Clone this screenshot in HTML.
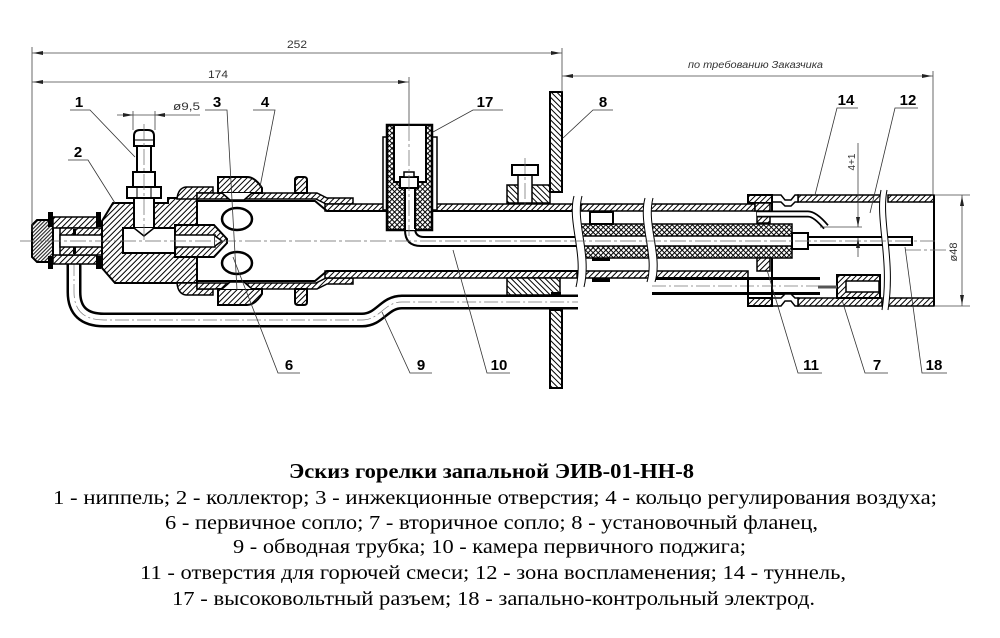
<!DOCTYPE html>
<html><head><meta charset="utf-8"><style>html,body{margin:0;padding:0;background:#fff}svg{display:block}</style></head>
<body>
<svg width="1000" height="638" viewBox="0 0 1000 638" xmlns="http://www.w3.org/2000/svg">
<defs>
<pattern id="h" width="4" height="4" patternUnits="userSpaceOnUse" patternTransform="rotate(45)"><rect width="4" height="4" fill="#fff"/><rect width="1" height="4" fill="#000"/></pattern>
<pattern id="hr" width="4" height="4" patternUnits="userSpaceOnUse" patternTransform="rotate(-45)"><rect width="4" height="4" fill="#fff"/><rect width="1" height="4" fill="#000"/></pattern>
<pattern id="hd" width="2.6" height="2.6" patternUnits="userSpaceOnUse" patternTransform="rotate(45)"><rect width="2.6" height="2.6" fill="#fff"/><rect width="1.1" height="2.6" fill="#222"/></pattern>
<pattern id="x" width="3.6" height="3.6" patternUnits="userSpaceOnUse" patternTransform="rotate(45)"><rect width="3.6" height="3.6" fill="#fff"/><rect width="1" height="3.6" fill="#000"/><rect width="3.6" height="1" fill="#000"/></pattern>
</defs>
<rect width="1000" height="638" fill="#fff"/>

<!-- bypass tube 9 -->
<path d="M74,256 V292 Q74,320 104,320 H362 C380,320 384,302 402,302 H578" fill="none" stroke="#000" stroke-width="15"/>
<path d="M74,256 V292 Q74,320 104,320 H362 C380,320 384,302 402,302 H578" fill="none" stroke="#fff" stroke-width="10"/>
<path d="M74,262 V292 Q74,320 104,320 H362 C380,320 384,302 402,302 H578" fill="none" stroke="#777" stroke-width="0.7" stroke-dasharray="14 3 2 3"/>

<!-- left cap nut and sleeve -->
<polygon points="37,220 53,220 53,262 37,262 32,257 32,225" fill="url(#hd)" stroke="#000" stroke-width="2"/>
<rect x="53" y="217" width="44" height="11" fill="url(#h)" stroke="#000" stroke-width="1.5"/>
<rect x="53" y="255" width="44" height="9" fill="url(#h)" stroke="#000" stroke-width="1.5"/>
<rect x="60" y="228" width="64" height="27" fill="url(#h)" stroke="#000" stroke-width="1.5"/>
<rect x="60" y="235" width="64" height="12" fill="#fff" stroke="#000" stroke-width="1.5"/>
<rect x="73" y="229" width="3" height="6" fill="#000"/>
<rect x="73" y="247" width="3" height="7" fill="#000"/>
<rect x="48" y="212" width="5" height="15" fill="#000"/>
<rect x="48" y="256" width="5" height="13" fill="#000"/>
<rect x="96" y="212" width="5" height="15" fill="#000"/>
<rect x="96" y="256" width="5" height="13" fill="#000"/>

<!-- collector body 2 -->
<path d="M102,221 L113,203 L168,203 L168,198 L197,198 L197,283 L115,283 L102,268 Z" fill="url(#h)" stroke="#000" stroke-width="2"/>
<rect x="123" y="228" width="52" height="25" fill="#fff" stroke="#000" stroke-width="2"/>
<!-- nozzle 6 -->
<path d="M175,225 L214,225 L227,239 L227,243 L214,257 L175,257 Z" fill="url(#h)" stroke="#000" stroke-width="2"/>
<rect x="175" y="235" width="40" height="12" fill="#fff" stroke="#000" stroke-width="1.5"/>
<path d="M215,236 L222,241 L215,246" fill="#fff" stroke="#000" stroke-width="1.5"/>

<!-- nipple 1 -->
<rect x="134" y="198" width="20" height="30" fill="#fff" stroke="#000" stroke-width="2"/>
<path d="M134,228 L144,236 L154,228" fill="#fff" stroke="#000" stroke-width="1.5"/>
<rect x="127" y="187" width="34" height="11" fill="#fff" stroke="#000" stroke-width="2"/>
<line x1="137" y1="187" x2="137" y2="198" stroke="#000" stroke-width="1"/>
<line x1="151" y1="187" x2="151" y2="198" stroke="#000" stroke-width="1"/>
<rect x="133" y="172" width="22" height="15" fill="#fff" stroke="#000" stroke-width="2"/>
<rect x="137" y="146" width="14" height="26" fill="#fff" stroke="#000" stroke-width="2"/>
<path d="M134,146 L134,136 Q134,130 140,130 L148,130 Q154,130 154,136 L154,146 Z" fill="#fff" stroke="#000" stroke-width="2"/>
<line x1="134" y1="140" x2="154" y2="140" stroke="#000" stroke-width="1"/>

<!-- housing top -->
<path d="M177,199 Q178,188 186,187 L213,187 L213,193 L197,193 L197,199 Z" fill="url(#h)" stroke="#000" stroke-width="1.5"/>
<polygon points="197,193 317,193 327,198 353,198 353,204 326,204 316,199 197,199" fill="url(#h)" stroke="#000" stroke-width="1.5"/>
<path d="M218,177 L247,177 Q255,177 262,188 L262,193 L218,193 Z" fill="url(#h)" stroke="#000" stroke-width="2"/>
<path d="M222,193 L230,200 L244,200 L252,193" fill="#fff" stroke="#000" stroke-width="1.5"/>
<path d="M295,193 V180 Q295,177 298,177 H304 Q307,177 307,180 V193 Z" fill="url(#h)" stroke="#000" stroke-width="2"/>
<!-- housing bottom -->
<path d="M177,283 Q178,294 186,295 L213,295 L213,289 L197,289 L197,283 Z" fill="url(#h)" stroke="#000" stroke-width="1.5"/>
<polygon points="197,289 317,289 327,284 353,284 353,278 326,278 316,283 197,283" fill="url(#h)" stroke="#000" stroke-width="1.5"/>
<path d="M218,305 L247,305 Q255,305 262,294 L262,289 L218,289 Z" fill="url(#h)" stroke="#000" stroke-width="2"/>
<path d="M222,289 L230,282 L244,282 L252,289" fill="#fff" stroke="#000" stroke-width="1.5"/>
<path d="M295,289 V302 Q295,305 298,305 H304 Q307,305 307,302 V289 Z" fill="url(#h)" stroke="#000" stroke-width="2"/>

<!-- main tube segment 1 -->
<rect x="325" y="204" width="252" height="7" fill="url(#h)" stroke="#000" stroke-width="1.5"/>
<rect x="325" y="271" width="252" height="7" fill="url(#h)" stroke="#000" stroke-width="1.5"/>
<path d="M197,201 L315,201 L327,211 H578" fill="none" stroke="#000" stroke-width="2"/>
<path d="M197,281 L315,281 L327,271 H578" fill="none" stroke="#000" stroke-width="2"/>
<ellipse cx="237" cy="219" rx="15" ry="11" fill="#fff" stroke="#000" stroke-width="2.5"/>
<ellipse cx="237" cy="263" rx="15" ry="11" fill="#fff" stroke="#000" stroke-width="2.5"/>

<!-- wire from connector -->
<path d="M405,186 V230 Q405,246 421,246 H578" fill="none" stroke="#000" stroke-width="2"/>
<path d="M415,186 V228 Q415,237 424,237 H578" fill="none" stroke="#000" stroke-width="2"/>

<!-- segments 2 & 3 -->
<rect x="581" y="204" width="174" height="7" fill="url(#h)" stroke="#000" stroke-width="1.5"/>
<rect x="581" y="271" width="167" height="7" fill="url(#h)" stroke="#000" stroke-width="1.5"/>
<rect x="581" y="224" width="211" height="12" fill="url(#x)" stroke="#000" stroke-width="1.5"/>
<rect x="581" y="246" width="211" height="12" fill="url(#x)" stroke="#000" stroke-width="1.5"/>
<rect x="590" y="212" width="23" height="12" fill="#fff" stroke="#000" stroke-width="2"/>
<rect x="592" y="258" width="18" height="3" fill="#000"/>
<rect x="592" y="278" width="18" height="4" fill="#000"/>
<path d="M652,286 H820" fill="none" stroke="#000" stroke-width="18"/>
<path d="M652,286 H820" fill="none" stroke="#fff" stroke-width="12"/>
<path d="M652,286 H820" fill="none" stroke="#777" stroke-width="0.7" stroke-dasharray="14 3 2 3"/>

<!-- connector 17 -->
<rect x="383" y="137" width="7" height="73" fill="#fff" stroke="#000" stroke-width="1.5"/>
<rect x="430" y="137" width="7" height="73" fill="#fff" stroke="#000" stroke-width="1.5"/>
<rect x="387" y="125" width="45" height="105" fill="url(#x)" stroke="#000" stroke-width="2.5"/>
<rect x="394" y="125" width="32" height="57" fill="#fff" stroke="#000" stroke-width="2"/>
<rect x="405" y="186" width="10" height="44" fill="#fff"/>
<line x1="405" y1="186" x2="405" y2="231" stroke="#000" stroke-width="2"/>
<line x1="415" y1="186" x2="415" y2="229" stroke="#000" stroke-width="2"/>
<rect x="400" y="177" width="18" height="11" fill="#fff" stroke="#000" stroke-width="2"/>
<rect x="404" y="172" width="10" height="5" fill="#fff" stroke="#000" stroke-width="1.5"/>

<!-- bolt, blocks, flange 8 -->
<rect x="507" y="185" width="43" height="18" fill="url(#hr)" stroke="#000" stroke-width="1.5"/>
<rect x="518" y="175" width="14" height="28" fill="#fff" stroke="#000" stroke-width="1.5"/>
<rect x="512" y="165" width="26" height="10" fill="#fff" stroke="#000" stroke-width="2"/>
<rect x="507" y="278" width="53" height="17" fill="url(#hr)" stroke="#000" stroke-width="1.5"/>
<rect x="550" y="92" width="12" height="100" fill="url(#hr)" stroke="#000" stroke-width="2"/>
<rect x="550" y="310" width="12" height="78" fill="url(#hr)" stroke="#000" stroke-width="2"/>
<rect x="551" y="292" width="10" height="4" fill="#000"/>

<!-- breaks -->
<path d="M574,196 C567,222 584,254 576,287 L584,287 C592,254 576,222 582,196 Z" fill="#fff"/>
<path d="M574,196 C567,222 584,254 576,287" fill="none" stroke="#000" stroke-width="1"/>
<path d="M582,196 C575,222 592,254 584,287" fill="none" stroke="#000" stroke-width="1"/>
<path d="M645,198 C638,224 655,256 647,282 L655,282 C663,256 647,224 653,198 Z" fill="#fff"/>
<path d="M645,198 C638,224 655,256 647,282" fill="none" stroke="#000" stroke-width="1"/>
<path d="M653,198 C646,224 663,256 655,282" fill="none" stroke="#000" stroke-width="1"/>

<!-- tunnel -->
<rect x="798" y="195" width="84" height="7" fill="url(#h)" stroke="#000" stroke-width="1.5"/>
<rect x="888" y="195" width="46" height="7" fill="url(#h)" stroke="#000" stroke-width="1.5"/>
<rect x="798" y="298" width="84" height="8" fill="url(#h)" stroke="#000" stroke-width="1.5"/>
<rect x="888" y="298" width="46" height="8" fill="url(#h)" stroke="#000" stroke-width="1.5"/>
<line x1="934" y1="195" x2="934" y2="306" stroke="#000" stroke-width="2"/>
<path d="M772,195 H781 L785,200 H791 L795,195 H798 V202 H795 L791,206 H785 L781,202 H772 Z" fill="#fff" stroke="#000" stroke-width="1.5"/>
<path d="M772,306 H781 L785,301 H791 L795,306 H798 V298 H795 L791,294 H785 L781,298 H772 Z" fill="#fff" stroke="#000" stroke-width="1.5"/>
<rect x="748" y="195" width="24" height="8" fill="url(#h)" stroke="#000" stroke-width="2"/>
<rect x="755" y="203" width="15" height="8" fill="url(#h)" stroke="#000" stroke-width="1.5"/>
<rect x="757" y="212" width="13" height="11" fill="url(#h)" stroke="#000" stroke-width="1.5"/>
<rect x="748" y="298" width="24" height="8" fill="url(#h)" stroke="#000" stroke-width="2"/>
<rect x="757" y="258" width="13" height="13" fill="url(#h)" stroke="#000" stroke-width="1.5"/>
<line x1="772" y1="195" x2="772" y2="217" stroke="#000" stroke-width="2"/>
<line x1="772" y1="258" x2="772" y2="306" stroke="#000" stroke-width="2"/>
<line x1="748" y1="277" x2="748" y2="306" stroke="#000" stroke-width="2"/>
<!-- bent tube 14 -->
<path d="M757,214 H808 Q815,214 826,227" fill="none" stroke="#000" stroke-width="7"/>
<path d="M757,214 H808 Q815,214 826,227" fill="none" stroke="#fff" stroke-width="3.5"/>
<!-- electrode 18 -->
<rect x="792" y="233" width="16" height="16" fill="#fff" stroke="#000" stroke-width="2"/>
<rect x="808" y="237" width="104" height="8" fill="#fff" stroke="#000" stroke-width="2"/>
<!-- nozzle 7 -->
<rect x="837" y="275" width="43" height="23" fill="url(#h)" stroke="#000" stroke-width="2"/>
<rect x="846" y="281" width="33" height="11" fill="#fff" stroke="#000" stroke-width="1.5"/>
<line x1="818" y1="287" x2="837" y2="287" stroke="#555" stroke-width="3"/>
<!-- tunnel break -->
<path d="M881,190 C875,220 890,260 882,310 L888,310 C896,260 881,220 887,190 Z" fill="#fff"/>
<path d="M881,190 C875,220 890,260 882,310" fill="none" stroke="#000" stroke-width="1"/>
<path d="M887,190 C881,220 896,260 888,310" fill="none" stroke="#000" stroke-width="1"/>

<!-- centerlines -->
<g stroke="#666" stroke-width="0.7" fill="none" stroke-dasharray="16 3 3 3">
<line x1="20" y1="241" x2="935" y2="241"/>
<line x1="905" y1="250" x2="948" y2="250"/>
<line x1="144" y1="124" x2="144" y2="240"/>
<line x1="409" y1="125" x2="409" y2="236"/>
<line x1="525" y1="158" x2="525" y2="206"/>
</g>

<!-- dimensions -->
<g stroke="#444" stroke-width="0.8" fill="none">
<line x1="32" y1="47" x2="32" y2="232"/>
<line x1="32" y1="53" x2="562" y2="53"/>
<line x1="32" y1="82" x2="409" y2="82"/>
<line x1="409" y1="77" x2="409" y2="125"/>
<line x1="562" y1="48" x2="562" y2="92"/>
<line x1="562" y1="76" x2="933" y2="76"/>
<line x1="933" y1="71" x2="933" y2="195"/>
<line x1="117" y1="115" x2="200" y2="115"/>
<line x1="133" y1="111" x2="133" y2="130"/>
<line x1="155" y1="111" x2="155" y2="130"/>
<line x1="934" y1="195" x2="970" y2="195"/>
<line x1="934" y1="306" x2="970" y2="306"/>
<line x1="962" y1="195" x2="962" y2="306"/>
<line x1="858" y1="143" x2="858" y2="227"/>
<line x1="858" y1="238" x2="858" y2="257"/>
<line x1="820" y1="227" x2="862" y2="227"/>
</g>
<g fill="#222">
<polygon points="33,53 43,51 43,55"/>
<polygon points="561,53 551,51 551,55"/>
<polygon points="33,82 43,80 43,84"/>
<polygon points="408,82 398,80 398,84"/>
<polygon points="563,76 573,74 573,78"/>
<polygon points="932,76 922,74 922,78"/>
<polygon points="133,115 123,113 123,117"/>
<polygon points="155,115 165,113 165,117"/>
<polygon points="962,196 960,206 964,206"/>
<polygon points="962,305 960,295 964,295"/>
<polygon points="858,227 856,217 860,217"/>
<polygon points="858,238 856,248 860,248"/>
</g>
<g font-family="Liberation Sans, sans-serif" fill="#333" font-size="11">
<text x="287" y="48" textLength="20" lengthAdjust="spacingAndGlyphs">252</text>
<text x="208" y="78" textLength="20" lengthAdjust="spacingAndGlyphs">174</text>
<text x="173" y="110" textLength="27" lengthAdjust="spacingAndGlyphs">ø9,5</text>
<text x="688" y="68" font-style="italic" font-size="10" textLength="135" lengthAdjust="spacingAndGlyphs">по требованию Заказчика</text>
<text transform="translate(957,252) rotate(-90)" text-anchor="middle" font-size="11">ø48</text>
<text transform="translate(855,162) rotate(-90)" text-anchor="middle" font-size="10">4+1</text>
</g>

<!-- leaders -->
<g stroke="#333" stroke-width="0.8" fill="none">
<path d="M70,110 H90 L135,157"/>
<path d="M68,160 H88 L115,203"/>
<path d="M205,110 H227 L237,290"/>
<path d="M253,110 H275 L260,187"/>
<path d="M300,373 H278 L233,257"/>
<path d="M503,110 H473 L433,132"/>
<path d="M613,110 H593 L563,138"/>
<path d="M432,373 H410 L382,312"/>
<path d="M510,373 H487 L453,250"/>
<path d="M858,108 H837 L815,195"/>
<path d="M918,108 H895 L870,213"/>
<path d="M822,373 H798 L767,270"/>
<path d="M888,373 H865 L842,300"/>
<path d="M947,373 H922 L905,247"/>
</g>
<g font-family="Liberation Sans, sans-serif" font-weight="bold" font-size="15" fill="#000" text-anchor="middle">
<text x="79" y="107">1</text>
<text x="78" y="157">2</text>
<text x="217" y="107">3</text>
<text x="265" y="107">4</text>
<text x="289" y="370">6</text>
<text x="485" y="107">17</text>
<text x="603" y="107">8</text>
<text x="421" y="370">9</text>
<text x="499" y="370">10</text>
<text x="846" y="105">14</text>
<text x="908" y="105">12</text>
<text x="811" y="370">11</text>
<text x="877" y="370">7</text>
<text x="934" y="370">18</text>
</g>

<!-- caption -->
<g font-family="Liberation Serif, 'Noto Serif CJK SC', serif" fill="#000" font-size="20">
<text x="289" y="478" font-weight="bold" font-size="21" textLength="405" lengthAdjust="spacingAndGlyphs">Эскиз горелки запальной ЭИВ-01-НН-8</text>
<text x="53" y="504" textLength="884" lengthAdjust="spacingAndGlyphs">1 - ниппель; 2 - коллектор; 3 - инжекционные отверстия; 4 - кольцо регулирования воздуха;</text>
<text x="165" y="529" textLength="653" lengthAdjust="spacingAndGlyphs">6 - первичное сопло; 7 - вторичное сопло; 8 - установочный фланец,</text>
<text x="233" y="553" textLength="513" lengthAdjust="spacingAndGlyphs">9 - обводная трубка; 10 - камера первичного поджига;</text>
<text x="140" y="579" textLength="706" lengthAdjust="spacingAndGlyphs">11 - отверстия для горючей смеси; 12 - зона воспламенения; 14 - туннель,</text>
<text x="172" y="605" textLength="643" lengthAdjust="spacingAndGlyphs">17 - высоковольтный разъем; 18 - запально-контрольный электрод.</text>
</g>
</svg>
</body></html>
